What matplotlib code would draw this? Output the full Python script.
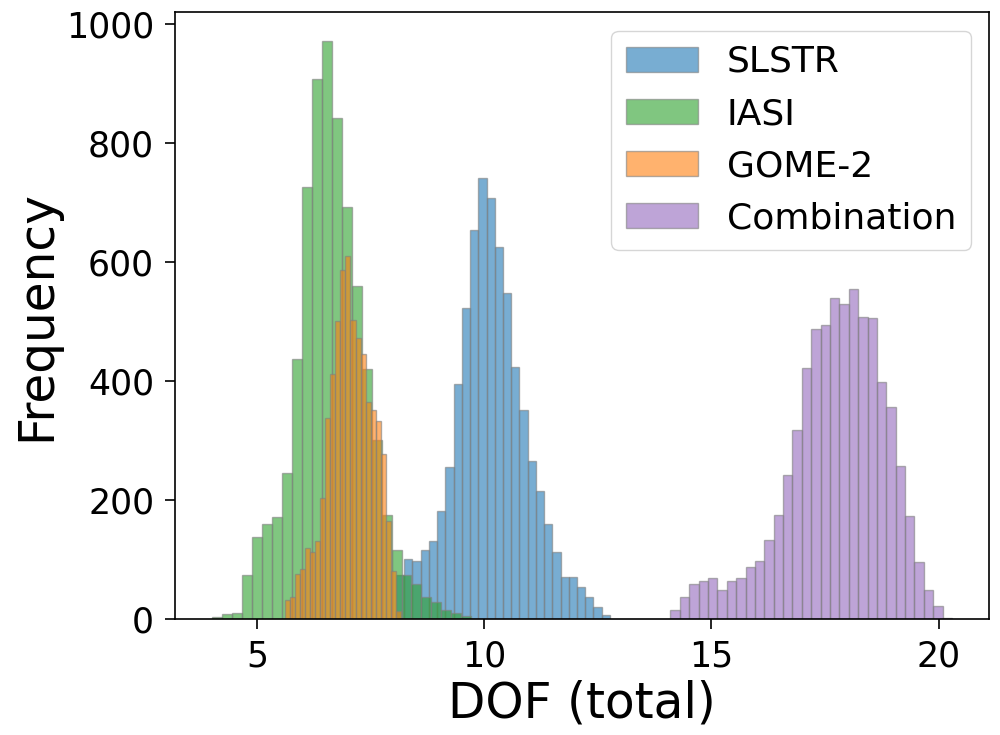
import numpy as np
import matplotlib
matplotlib.use('Agg')
import matplotlib.pyplot as plt

# bin start, bin width and counts
slstr_start = 8.06
slstr_width = 0.181
slstr_counts = [73, 101, 98, 115, 131, 181, 256, 395, 523, 654, 742, 707, 626,
                548, 423, 352, 266, 215, 159, 112, 70, 70, 53, 36, 20, 6]

iasi_start = 4.01
iasi_width = 0.2195
iasi_counts = [3, 8, 10, 74, 137, 160, 172, 246, 437, 726, 908, 971, 842,
               692, 560, 420, 300, 175, 115, 73, 59, 37, 28, 15, 10, 5]

gome_start = 5.62
gome_width = 0.1106
gome_counts = [31, 36, 75, 84, 120, 112, 131, 204, 338, 411, 501, 587, 610,
               503, 473, 445, 364, 352, 333, 277, 165, 81, 14]

combo_start = 14.10
combo_width = 0.2065
combo_counts = [15, 37, 59, 63, 68, 48, 63, 68, 88, 98, 133, 174, 242, 317,
                421, 487, 494, 539, 529, 555, 507, 506, 399, 356, 257, 173,
                96, 48, 21, 2]

labels = ['SLSTR', 'IASI', 'GOME-2', 'Combination']
colors = ['tab:blue', 'tab:green', 'tab:orange', 'tab:purple']


def make_edges(start, width, counts):
    return start + width * np.arange(len(counts) + 1)


series = [
    (slstr_start, slstr_width, slstr_counts),
    (iasi_start, iasi_width, iasi_counts),
    (gome_start, gome_width, gome_counts),
    (combo_start, combo_width, combo_counts),
]

fig = plt.figure(figsize=(10, 7.35), dpi=100)
ax = fig.add_axes([0.175, 0.158, 0.814, 0.825])

for (start, width, counts), label, c in zip(series, labels, colors):
    edges = make_edges(start, width, counts)
    ax.hist(edges[:-1], bins=edges, weights=counts, alpha=0.6, color=c,
            edgecolor='grey', linewidth=1, label=label)

ax.set_xticks([5, 10, 15, 20])
ax.set_yticks([0, 200, 400, 600, 800, 1000])
ax.tick_params(labelsize=25, length=7, width=1.2, pad=8)
ax.set_xlabel('DOF (total)', fontsize=35)
ax.set_ylabel('Frequency', fontsize=35)
for s in ax.spines.values():
    s.set_linewidth(1.2)
ax.legend(fontsize=26, loc='upper right')

fig.savefig('out.png', dpi=100)
